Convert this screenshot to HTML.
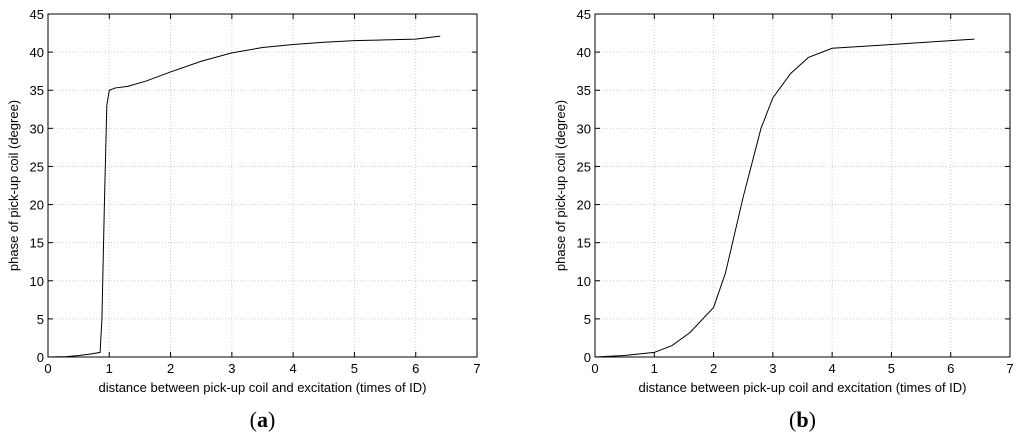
<!DOCTYPE html>
<html><head><meta charset="utf-8"><style>
body{margin:0;background:#fff;width:1024px;height:439px;overflow:hidden}
text{font-family:"Liberation Sans",sans-serif;font-size:13px;fill:#000}
</style></head><body>
<svg id="svg" width="1024" height="439"></svg>
<script>
const xTicks=[0,1,2,3,4,5,6,7];
const yTicks=[0,5,10,15,20,25,30,35,40,45];
const seriesAx=[0,0.3,0.5,0.7,0.85,0.88,0.92,0.96,1.0,1.1,1.3,1.6,2,2.5,3,3.5,4,4.5,5,5.5,6,6.2,6.4];
const seriesAy=[0,0.05,0.2,0.4,0.6,5,20,33,35,35.3,35.5,36.2,37.4,38.8,39.9,40.6,41,41.3,41.5,41.6,41.7,41.9,42.1];
const seriesBx=[0,0.5,1,1.3,1.6,2,2.2,2.5,2.8,3,3.3,3.6,4,5,6,6.4];
const seriesBy=[0,0.2,0.6,1.5,3.2,6.5,11,21,30,34,37.2,39.3,40.5,41,41.5,41.7];
const NS='http://www.w3.org/2000/svg';
const svg=document.getElementById('svg');
function mk(t,a,p){const e=document.createElementNS(NS,t);for(const k in a)e.setAttribute(k,a[k]);(p||svg).appendChild(e);return e;}
function panel(L,R,T,B,xs,ys,label,id){
  const g=mk('g',{});
  
  
  const sx=v=>L+(R-L)*v/7, sy=v=>B-(B-T)*v/45;
  xTicks.forEach(v=>{const x=sx(v);
    if(v>0&&v<7)mk('line',{x1:x,x2:x,y1:T,y2:B,stroke:'#ccc','stroke-dasharray':'1,2'},g);
    mk('line',{x1:x,x2:x,y1:B,y2:B-5,stroke:'#000'},g);mk('line',{x1:x,x2:x,y1:T,y2:T+5,stroke:'#000'},g);
    const t=mk('text',{x:x,y:B+16,'text-anchor':'middle'},g);t.textContent=v;
    
    });
  yTicks.forEach(v=>{const y=sy(v);
    if(v>0&&v<45)mk('line',{x1:L,x2:R,y1:y,y2:y,stroke:'#ccc','stroke-dasharray':'1,2'},g);
    mk('line',{x1:L,x2:L+5,y1:y,y2:y,stroke:'#000'},g);mk('line',{x1:R,x2:R-5,y1:y,y2:y,stroke:'#000'},g);
    const t=mk('text',{x:L-4,y:y+5,'text-anchor':'end'},g);t.textContent=v;
    
    });
  mk('rect',{x:L,y:T,width:R-L,height:B-T,fill:'none',stroke:'#000'},g);
  const p=mk('polyline',{points:xs.map((x,i)=>sx(x)+','+sy(ys[i])).join(' '),fill:'none',stroke:'#000','stroke-width':1},g);
  
  
  const xl=mk('text',{x:(L+R)/2,y:B+35,'text-anchor':'middle'},g);xl.textContent='distance between pick-up coil and excitation (times of ID)';
  
  
  const yl=mk('text',{x:0,y:0,'text-anchor':'middle',transform:`translate(${L-30},${(T+B)/2}) rotate(-90)`},g);yl.textContent='phase of pick-up coil (degree)';
  
  
  const c=mk('text',{x:(L+R)/2,y:427,'text-anchor':'middle',style:'font-family:"Liberation Serif",serif;font-size:22px'},g);
  c.innerHTML='(<tspan font-weight="bold">'+label+'</tspan>)';
  
  
}
panel(48,477,14,357,seriesAx,seriesAy,'a','a');
panel(595,1010,14,357,seriesBx,seriesBy,'b','b');
</script>
</body></html>
